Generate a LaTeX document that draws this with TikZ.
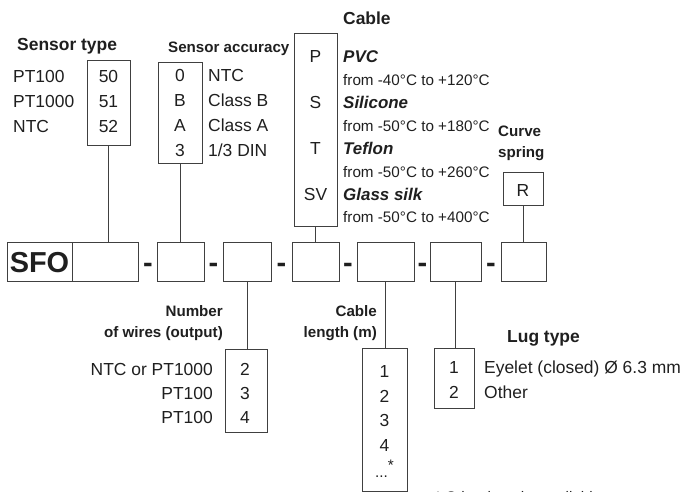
\documentclass[tikz,border=0pt]{standalone}
\usepackage{fontspec}
\setmainfont{Liberation Sans}
\definecolor{ln}{gray}{0.25}
\definecolor{tx}{gray}{0.12}
\newcommand{\fmain}{\fontsize{17.5}{20}\selectfont}
\newcommand{\fhead}{\fontsize{17.5}{20}\selectfont\bfseries}
\newcommand{\fsub}{\fontsize{15.2}{18}\selectfont\bfseries}
\newcommand{\fsmall}{\fontsize{15.3}{18}\selectfont}
\newcommand{\fmat}{\fontsize{17}{20}\selectfont\bfseries\itshape}
\newcommand{\fbig}{\fontsize{29}{32}\selectfont\bfseries}
\begin{document}
\begin{tikzpicture}[x=1bp,y=-1bp,
  codebox/.style={draw=ln, line width=0.8bp, inner sep=0pt, minimum width=#1},
  rowbox/.style={codebox=#1, minimum height=39bp},
  lbl/.style={inner sep=0pt, text=tx, font=\fmain},
  lw/.style={lbl, anchor=base west},
  le/.style={lbl, anchor=base east},
  lc/.style={lbl, anchor=base},
  conn/.style={draw=ln, line width=0.8bp}]
\useasboundingbox (0,0) rectangle (683,492);

% ---------- main row ----------
\node[rowbox=65bp] (sfo) at (39.5,261.5) {};
\node[lc, font=\fbig] (sfot) at (39.5,273) {SFO};
\node[rowbox=66bp] (r1) at (105,261.5) {};
\node[rowbox=47bp] (r2) at (180.5,261.5) {};
\node[rowbox=48bp] (r3) at (247,261.5) {};
\node[rowbox=47bp] (r4) at (315.5,261.5) {};
\node[rowbox=57bp] (r5) at (385.5,261.5) {};
\node[rowbox=51bp] (r6) at (455.5,261.5) {};
\node[rowbox=45bp] (r7) at (523.5,261.5) {};
\foreach \x [count=\i] in {148,213.5,281.5,348,422.5,491}
  \node[lc, font=\fbig] (d\i) at (\x,273) {-};

% ---------- sensor type ----------
\node[lw, font=\fhead] (sth) at (17,51) {Sensor type};
\node[codebox=43bp, minimum height=85bp] (st) at (108.5,102.5) {};
\node[lw] (st1) at (13,83) {PT100};
\node[lw] (st2) at (13,108) {PT1000};
\node[lw] (st3) at (13,133) {NTC};
\node[lc] (sv1) at (108.5,83) {50};
\node[lc] (sv2) at (108.5,108) {51};
\node[lc] (sv3) at (108.5,133) {52};
\draw[conn] (st.south) -- (st.south |- r1.north);

% ---------- sensor accuracy ----------
\node[lw, font=\fsub] (sah) at (168,53) {Sensor accuracy};
\node[codebox=44bp, minimum height=101bp] (sa) at (180,112.5) {};
\node[lc] (sa1) at (180,82) {0};
\node[lc] (sa2) at (180,107) {B};
\node[lc] (sa3) at (180,132) {A};
\node[lc] (sa4) at (180,156.5) {3};
\node[lw] (sl1) at (208,82) {NTC};
\node[lw] (sl2) at (208,107) {Class B};
\node[lw] (sl3) at (208,132) {Class A};
\node[lw] (sl4) at (208,156.5) {1/3 DIN};
\draw[conn] (sa.south) -- (sa.south |- r2.north);

% ---------- cable ----------
\node[lw, font=\fhead] (cbh) at (343,25) {Cable};
\node[codebox=43bp, minimum height=193bp] (cb) at (315.5,129.5) {};
\node[lc] (cb1) at (315.5,63) {P};
\node[lc] (cb2) at (315.5,109) {S};
\node[lc] (cb3) at (315.5,155) {T};
\node[lc] (cb4) at (315.5,201) {SV};
\node[lw, font=\fmat] (m1) at (343,63) {PVC};
\node[lw, font=\fsmall] (t1) at (343,86) {from -40°C to +120°C};
\node[lw, font=\fmat] (m2) at (343,109) {Silicone};
\node[lw, font=\fsmall] (t2) at (343,132) {from -50°C to +180°C};
\node[lw, font=\fmat] (m3) at (343,155) {Teflon};
\node[lw, font=\fsmall] (t3) at (343,178) {from -50°C to +260°C};
\node[lw, font=\fmat] (m4) at (343,201) {Glass silk};
\node[lw, font=\fsmall] (t4) at (343,223) {from -50°C to +400°C};
\draw[conn] (cb.south) -- (cb.south |- r4.north);

% ---------- curve spring ----------
\node[lw, font=\fsub] (csh1) at (498,137) {Curve};
\node[lw, font=\fsub] (csh2) at (498,158) {spring};
\node[codebox=40bp, minimum height=33bp] (rb) at (523,188.5) {};
\node[lc] (rbt) at (523,197) {R};
\draw[conn] (rb.south) -- (rb.south |- r7.north);

% ---------- number of wires ----------
\node[le, font=\fsub] (nwh1) at (223,316) {Number};
\node[le, font=\fsub] (nwh2) at (223,337) {of wires (output)};
\node[codebox=42bp, minimum height=83bp] (nw) at (246,390.5) {};
\node[lc] (nw1) at (245,375) {2};
\node[lc] (nw2) at (245,399) {3};
\node[lc] (nw3) at (245,423) {4};
\node[le] (nl1) at (213,375) {NTC or PT1000};
\node[le] (nl2) at (213,399) {PT100};
\node[le] (nl3) at (213,423) {PT100};
\draw[conn] (r3.south) -- (r3.south |- nw.north);

% ---------- cable length ----------
\node[le, font=\fsub] (clh1) at (377,316) {Cable};
\node[le, font=\fsub] (clh2) at (377,337) {length (m)};
\node[codebox=45bp, minimum height=143bp] (cl) at (384.5,419.5) {};
\node[lc] (cl1) at (384.5,377) {1};
\node[lc] (cl2) at (384.5,402) {2};
\node[lc] (cl3) at (384.5,426) {3};
\node[lc] (cl4) at (384.5,451) {4};
\node[lc, font=\fsmall] (cl5) at (384.5,477) {...\raisebox{0.42em}{*}};
\draw[conn] (r5.south) -- (r5.south |- cl.north);
\node[lw, font=\fsmall] (note) at (435,502) {* Other lengths available};

% ---------- lug type ----------
\node[lw, font=\fhead] (lgh) at (507,342) {Lug type};
\node[codebox=40bp, minimum height=60bp] (lg) at (454,378) {};
\node[lc] (lg1) at (454,373) {1};
\node[lc] (lg2) at (454,398) {2};
\node[lw] (ll1) at (484,373) {Eyelet (closed) Ø 6.3 mm};
\node[lw] (ll2) at (484,398) {Other};
\draw[conn] (r6.south) -- (r6.south |- lg.north);
\end{tikzpicture}
\end{document}
